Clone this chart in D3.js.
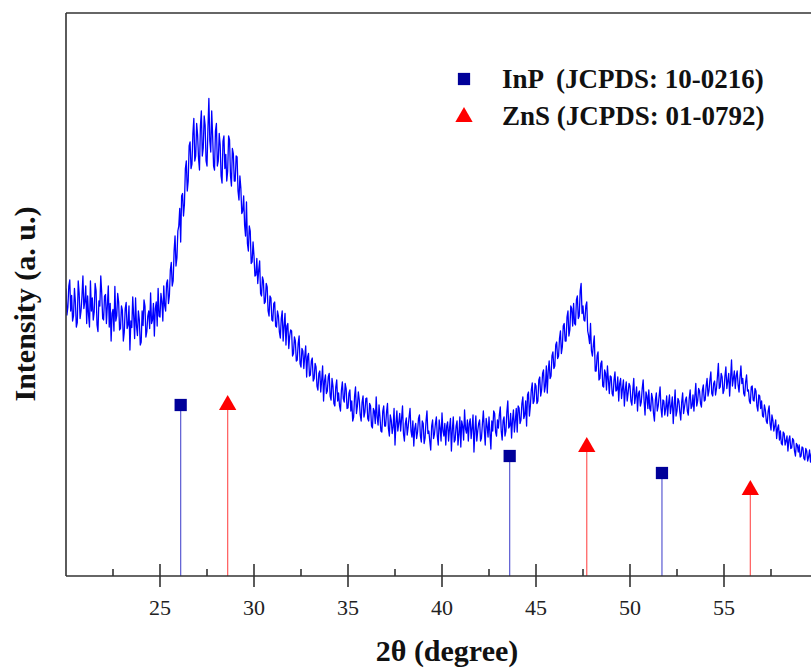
<!DOCTYPE html>
<html lang="en">
<head>
<meta charset="utf-8">
<script src="https://cdn.jsdelivr.net/npm/d3@7/dist/d3.min.js"></script>
<style>
html, body {
    margin: 0;
    padding: 0;
    background: #fff;
}
#chart {
    width: 811px;
    height: 668px;
}
text {
    font-family: "Liberation Serif", "Times New Roman", serif;
}
</style>
</head>
<body>
<div id="chart"></div>

<script>
// XRD pattern, 2theta from 20.00 to 60.00 in 0.05 degree steps (one row per degree)
var startAngle = 20.0;
var stepAngle = 0.05;
var intensity = [
    575,522, 538,580, 592,530, 561,510, 520,575, 548,498, 507,590, 566,515, 530,560, 600,535,   // 20
    548,580, 505,560, 522,498, 590,530, 556,512, 528,585, 571,502, 489,550, 540,600, 566,515,   // 21
    512,560, 563,505, 541,580, 498,545, 470,525, 533,490, 579,510, 520,565, 548,492, 495,540,   // 22
    531,470, 488,535, 547,495, 502,540, 452,510, 497,558, 520,475, 556,500, 481,530, 513,462,   // 23
    468,530, 501,552, 540,478, 489,520, 530,495, 566,505, 512,545, 480,535, 548,500, 575,520,   // 24
    518,565, 549,510, 580,540, 530,585, 592,545, 561,612, 627,580, 590,650, 680,620, 636,690,   // 25
    700,735, 668,760, 765,720, 744,815, 830,770, 790,860, 868,815, 824,885, 915,830, 840,905,   // 26
    882,835, 812,900, 930,840, 856,920, 902,830, 820,895, 955,870, 848,930, 880,820, 812,890,   // 27
    905,820, 830,885, 862,800, 786,870, 880,815, 843,790, 810,880, 872,800, 780,855, 845,790,   // 28
    790,840, 838,770, 752,800, 776,725, 730,760, 702,680, 748,665, 650,700, 690,625, 628,668,   // 29
    640,600, 602,635, 585,612, 630,565, 560,598, 590,545, 548,585, 578,530, 520,560, 556,512,   // 30
    510,545, 548,500, 498,530, 520,488, 476,515, 530,470, 500,525, 462,500, 505,455, 480,492,   // 31
    490,440, 445,478, 470,430, 432,465, 480,425, 418,455, 450,415, 440,460, 398,438, 445,400,   // 32
    402,430, 436,390, 395,425, 418,380, 372,405, 410,368, 392,420, 350,390, 402,365, 370,398,   // 33
    405,360, 352,395, 380,345, 340,378, 392,350, 366,340, 330,372, 388,355, 348,385, 375,335,   // 34
    336,365, 372,330, 350,310, 318,360, 378,325, 340,368, 352,322, 310,348, 360,318, 328,355,   // 35
    356,315, 310,345, 340,300, 296,335, 330,305, 358,318, 302,342, 318,290, 288,330, 340,300,   // 36
    300,328, 345,295, 280,322, 312,285, 298,335, 262,305, 330,290, 306,325, 290,315, 340,285,   // 37
    270,305, 316,282, 298,318, 335,290, 278,310, 260,295, 305,275, 288,315, 322,280, 268,310,   // 38
    305,265, 276,310, 330,285, 290,270, 252,300, 312,275, 284,305, 318,280, 262,312, 296,270,   // 39
    326,290, 280,305, 262,300, 308,270, 296,315, 250,292, 318,268, 272,300, 310,262, 284,318,   // 40
    258,310, 300,272, 332,295, 286,312, 270,305, 314,275, 296,322, 248,290, 320,270, 290,305,   // 41
    312,270, 276,305, 330,292, 262,315, 300,278, 318,285, 254,310, 290,330, 325,288, 280,312,   // 42
    296,322, 338,290, 272,310, 318,280, 290,328, 350,296, 300,325, 276,312, 332,288, 310,335,   // 43
    288,340, 336,305, 312,345, 358,315, 322,350, 300,362, 368,320, 340,372, 386,345, 350,385,   // 44
    380,345, 350,392, 398,360, 372,405, 412,368, 380,420, 366,410, 430,395, 400,440, 448,415,   // 45
    420,462, 468,435, 440,475, 490,445, 458,500, 505,470, 470,518, 530,480, 492,540, 535,500,   // 46
    545,505, 502,552, 560,515, 520,570, 585,525, 540,512, 510,540, 548,490, 480,465, 505,450,   // 47
    440,462, 480,410, 410,440, 448,392, 395,425, 430,380, 378,412, 405,372, 420,392, 365,400,   // 48
    398,365, 360,392, 408,370, 372,398, 350,385, 395,355, 375,392, 340,372, 388,350, 366,385,   // 49
    380,350, 342,372, 395,345, 360,378, 330,365, 370,340, 348,375, 392,350, 322,368, 360,335,   // 50
    372,335, 330,365, 355,325, 310,352, 366,330, 340,360, 378,335, 318,352, 350,322, 335,360,   // 51
    320,345, 362,325, 340,358, 305,340, 372,320, 330,355, 350,328, 312,348, 366,325, 338,352,   // 52
    358,330, 322,355, 372,335, 340,362, 330,360, 385,340, 350,375, 370,345, 338,372, 382,350,   // 53
    352,380, 395,360, 370,392, 408,365, 360,385, 390,362, 375,398, 425,375, 378,405, 398,365,   // 54
    372,400, 418,375, 390,405, 360,395, 432,380, 395,410, 375,400, 410,382, 368,398, 420,385,   // 55
    395,365, 360,388, 402,370, 372,350, 345,378, 380,352, 350,375, 370,340, 330,362, 360,335,   // 56
    350,320, 318,342, 332,310, 305,330, 340,305, 292,322, 312,290, 300,312, 275,295, 302,272,   // 57
    290,265, 262,288, 285,262, 270,280, 250,272, 280,255, 256,275, 272,250, 240,265, 262,248,   // 58
    262,238, 240,258, 256,235, 232,255, 250,230, 238,252, 228,245, 246,225, 222,245, 238,228,   // 59
    232                                                                                         // 60
];

// reference peaks (JCPDS cards)
var inpAngles = [26.1, 43.6, 51.7];
var inpHeights = [342, 240, 206];
var znsAngles = [28.6, 47.7, 56.4];
var znsHeights = [344, 260, 174];

var legendLabels = ["InP  (JCPDS: 10-0216)", "ZnS (JCPDS: 01-0792)"];
var majorTicks = [25, 30, 35, 40, 45, 50, 55];
var minorTicks = [22.5, 27.5, 32.5, 37.5, 42.5, 47.5, 52.5, 57.5];

var width = 811;
var height = 668;

var svg = d3.select("#chart").append("svg")
    .attr("width", width)
    .attr("height", height);

// plot area (right edge sits just past the picture)
var plot = {left: 66, right: 818, top: 13, bottom: 576};

var xScale = d3.scaleLinear().domain([20, 60]).range([plot.left, plot.right]);
var yScale = d3.scaleLinear().domain([0, 1126]).range([plot.bottom, plot.top]);

var data = intensity.map(function(v, i){
    return {angle: startAngle + i * stepAngle, value: v};
});

svg.append("clipPath").attr("id", "plotClip")
    .append("rect")
    .attr("x", plot.left).attr("y", plot.top)
    .attr("width", plot.right - plot.left).attr("height", plot.bottom - plot.top);

// trace
var line = d3.line()
    .x(function(d){ return xScale(d.angle); })
    .y(function(d){ return yScale(d.value); });

svg.append("path")
    .datum(data)
    .attr("clip-path", "url(#plotClip)")
    .attr("fill", "none")
    .attr("stroke", "#0000ff")
    .attr("stroke-width", 1.3)
    .attr("stroke-linejoin", "round")
    .attr("d", line);

// reference sticks
var refLayer = svg.append("g");

refLayer.selectAll(".inpLine")
    .data(inpAngles)
    .enter()
    .append("line")
    .attr("x1", function(d){ return xScale(d); })
    .attr("x2", function(d){ return xScale(d); })
    .attr("y1", function(d, i){ return yScale(inpHeights[i]); })
    .attr("y2", yScale(0))
    .attr("stroke", "#5a5ad2")
    .attr("stroke-width", 1.2);

refLayer.selectAll(".znsLine")
    .data(znsAngles)
    .enter()
    .append("line")
    .attr("x1", function(d){ return xScale(d); })
    .attr("x2", function(d){ return xScale(d); })
    .attr("y1", function(d, i){ return yScale(znsHeights[i]); })
    .attr("y2", yScale(0))
    .attr("stroke", "#ff5a5a")
    .attr("stroke-width", 1.2);

var square = d3.symbol().type(d3.symbolSquare).size(150);
var triangle = d3.symbol().type(d3.symbolTriangle).size(130);

refLayer.selectAll(".inpMark")
    .data(inpAngles)
    .enter()
    .append("path")
    .attr("d", square)
    .attr("fill", "#000099")
    .attr("transform", function(d, i){
        return "translate(" + [xScale(d), yScale(inpHeights[i])] + ")";
    });

refLayer.selectAll(".znsMark")
    .data(znsAngles)
    .enter()
    .append("path")
    .attr("d", triangle)
    .attr("fill", "#ff0000")
    .attr("transform", function(d, i){
        return "translate(" + [xScale(d), yScale(znsHeights[i]) + 1] + ")";
    });

// frame
var frame = svg.append("g")
    .attr("stroke", "#333")
    .attr("stroke-width", 1.6);
frame.append("line").attr("x1", plot.left).attr("x2", plot.left).attr("y1", plot.top).attr("y2", plot.bottom);
frame.append("line").attr("x1", plot.left).attr("x2", plot.right).attr("y1", plot.top).attr("y2", plot.top);
frame.append("line").attr("x1", plot.left).attr("x2", plot.right).attr("y1", plot.bottom).attr("y2", plot.bottom);

// x axis: major ticks cross the axis, minor ones point inside
var xAxis = svg.append("g");
xAxis.selectAll(".major")
    .data(majorTicks)
    .enter()
    .append("line")
    .attr("x1", function(d){ return xScale(d); })
    .attr("x2", function(d){ return xScale(d); })
    .attr("y1", plot.bottom - 12)
    .attr("y2", plot.bottom + 11)
    .attr("stroke", "#333")
    .attr("stroke-width", 1.6);

xAxis.selectAll(".minor")
    .data(minorTicks)
    .enter()
    .append("line")
    .attr("x1", function(d){ return xScale(d); })
    .attr("x2", function(d){ return xScale(d); })
    .attr("y1", plot.bottom - 7)
    .attr("y2", plot.bottom)
    .attr("stroke", "#333")
    .attr("stroke-width", 1.6);

xAxis.selectAll(".tickLabel")
    .data(majorTicks)
    .enter()
    .append("text")
    .attr("x", function(d){ return xScale(d); })
    .attr("y", 615)
    .attr("text-anchor", "middle")
    .attr("font-size", 22)
    .attr("fill", "#222")
    .text(function(d){ return d; });

// axis titles
svg.append("text")
    .attr("x", 447)
    .attr("y", 661)
    .attr("text-anchor", "middle")
    .attr("font-size", 30)
    .attr("font-weight", "bold")
    .attr("fill", "#111")
    .text("2θ (degree)");

svg.append("text")
    .attr("transform", "translate(35,304) rotate(-90)")
    .attr("text-anchor", "middle")
    .attr("font-size", 30)
    .attr("font-weight", "bold")
    .attr("fill", "#111")
    .text("Intensity (a. u.)");

// legend
var legend = svg.append("g");
legend.append("path")
    .attr("d", square)
    .attr("fill", "#000099")
    .attr("transform", "translate(464,79)");
legend.append("path")
    .attr("d", triangle)
    .attr("fill", "#ff0000")
    .attr("transform", "translate(464,117)");

legend.selectAll(".legendText")
    .data(legendLabels)
    .enter()
    .append("text")
    .attr("x", 502)
    .attr("y", function(d, i){ return 88 + i * 37; })
    .attr("font-size", 27)
    .attr("font-weight", "bold")
    .attr("fill", "#111")
    .style("white-space", "pre")
    .text(function(d){ return d; });
</script>
</body>
</html>
